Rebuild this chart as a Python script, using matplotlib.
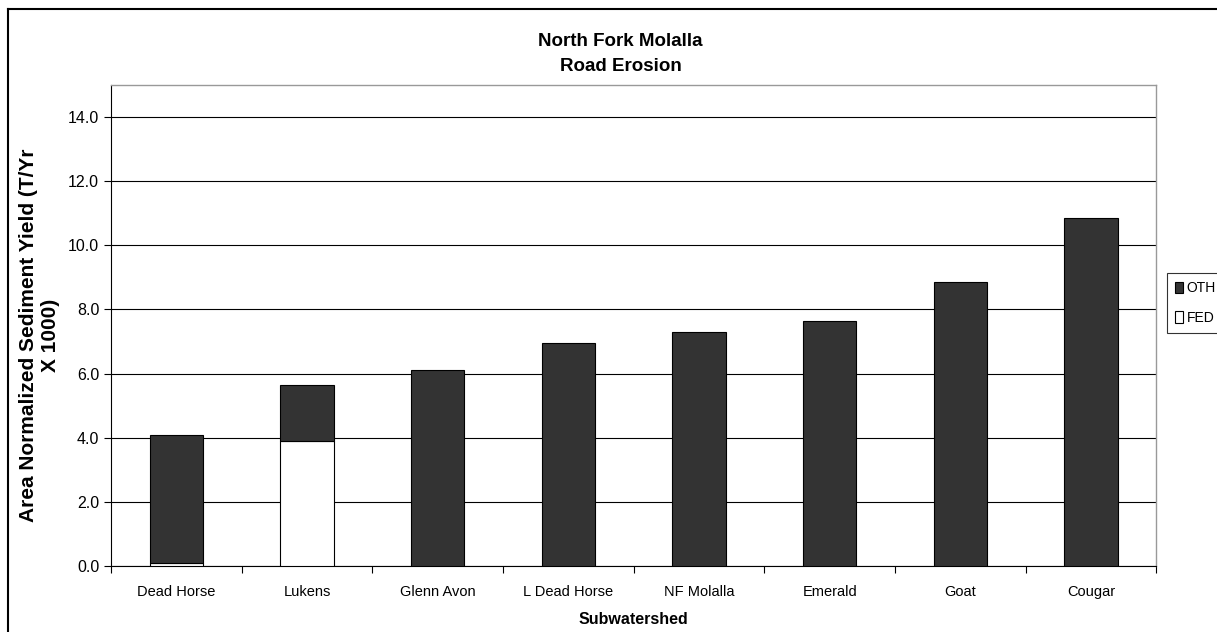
import matplotlib.pyplot as plt
import numpy as np
from matplotlib.lines import Line2D

plt.rcParams['font.family'] = ['Liberation Sans', 'DejaVu Sans']

# данные
subwatersheds = ["Dead Horse", "Lukens", "Glenn Avon", "L Dead Horse",
                 "NF Molalla", "Emerald", "Goat", "Cougar"]
fed = [0.1, 3.9, 0.0, 0.0, 0.0, 0.0, 0.0, 0.0]
oth = [4.0, 1.75, 6.1, 6.95, 7.3, 7.65, 8.85, 10.85]
yticks = [0, 2, 4, 6, 8, 10, 12, 14]

fig = plt.figure(figsize=(12.17, 6.32), dpi=100)
ax = fig.add_axes([0.0912, 0.1044, 0.859, 0.7611])

x = np.arange(len(subwatersheds))
ax.bar(x, fed, width=0.41, color="white", edgecolor="black", linewidth=0.8,
       label="FED", zorder=3)
ax.bar(x, oth, width=0.41, bottom=fed, color="#333333", edgecolor="black",
       linewidth=0.8, label="OTH", zorder=3)

ax.set_xlim(-0.5, len(subwatersheds) - 0.5)
ax.set_ylim(0, 15)
ax.set_yticks(yticks)
ax.set_yticklabels([f"{v:.1f}" for v in yticks], fontsize=11.5)
ax.yaxis.grid(True, color="black", linewidth=0.8, zorder=0)
ax.set_axisbelow(True)

# разделители категорий на оси x
ax.set_xticks(np.arange(len(subwatersheds) + 1) - 0.5)
ax.set_xticklabels([])
ax.set_xticks(x, minor=True)
ax.set_xticklabels(subwatersheds, minor=True, fontsize=10.5)
ax.tick_params(axis="x", which="minor", length=0, pad=14)
ax.tick_params(axis="x", which="major", length=5, direction="out")
ax.tick_params(axis="y", length=5, direction="out")

for side in ["top", "right"]:
    ax.spines[side].set_color("#999999")
    ax.spines[side].set_linewidth(1.0)

ax.set_xlabel("Subwatershed", fontsize=11.5, fontweight="bold", labelpad=9)

# подпись оси y в две строки
fig.text(40 / 1217, 1 - 335 / 632, "Area Normalized Sediment Yield (T/Yr\nX 1000)",
         rotation=90, ha="center", va="center", fontsize=15, fontweight="bold",
         multialignment="center")

fig.text(0.51, 1 - 54 / 632, "North Fork Molalla\nRoad Erosion", ha="center",
         va="center", fontsize=13.5, fontweight="bold", linespacing=1.6)

handles, labels = ax.get_legend_handles_labels()
leg = fig.legend(handles[::-1], labels[::-1], loc="center left",
                 bbox_to_anchor=(1167 / 1217, 1 - 303 / 632), fontsize=10,
                 frameon=True, fancybox=False, edgecolor="black",
                 handlelength=0.55, handleheight=0.9, handletextpad=0.25,
                 borderpad=0.6, labelspacing=1.1, borderaxespad=0)
leg.get_frame().set_linewidth(0.8)

# рамка вокруг картинки (обрезана справа и снизу)
fig.lines.append(Line2D([8 / 1217, 8 / 1217], [0, 1 - 9 / 632],
                        transform=fig.transFigure, color="black", linewidth=1.5))
fig.lines.append(Line2D([8 / 1217, 1], [1 - 9 / 632, 1 - 9 / 632],
                        transform=fig.transFigure, color="black", linewidth=1.5))

plt.savefig("out.png", dpi=100)
